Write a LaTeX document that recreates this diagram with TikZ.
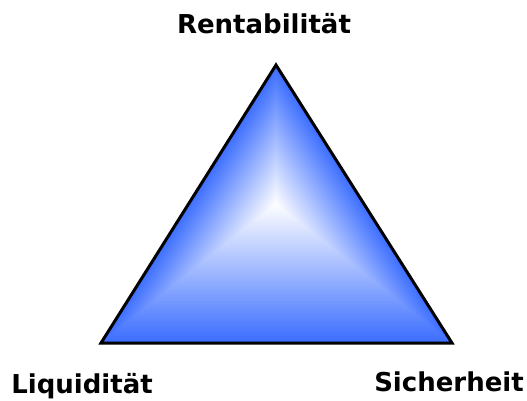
\documentclass[tikz,border=0pt]{standalone}
\usepackage{fontspec}
\setmainfont{DejaVu Sans}
\usetikzlibrary{calc}
\definecolor{edgeblue}{RGB}{60,110,255}
\tikzset{
	corner/.style={font=\fontsize{26}{30}\selectfont\bfseries, anchor=base, inner sep=0pt}
}
\begin{document}
\begin{tikzpicture}[x=1pt,y=-1pt]
	\useasboundingbox (0,0) rectangle (527,400);
	\coordinate (top) at (276,65);
	\coordinate (left) at (101,343);
	\coordinate (right) at (452,343);
	\coordinate (mid) at (276,204);
	% blue at the edges, white towards the middle
	\foreach \s in {100,99,...,1} {
		\fill[edgeblue!\s!white] ($(mid)!\s/100!(top)$) -- ($(mid)!\s/100!(left)$) -- ($(mid)!\s/100!(right)$) -- cycle;
	}
	\draw[line width=3pt, line join=miter] (top) -- (left) -- (right) -- cycle;
	\node[corner] (rent) at (264,33) {Rentabilität};
	\node[corner] (liqu) at (82,393) {Liquidität};
	\node[corner] (sich) at (449,391) {Sicherheit};
\end{tikzpicture}
\end{document}
